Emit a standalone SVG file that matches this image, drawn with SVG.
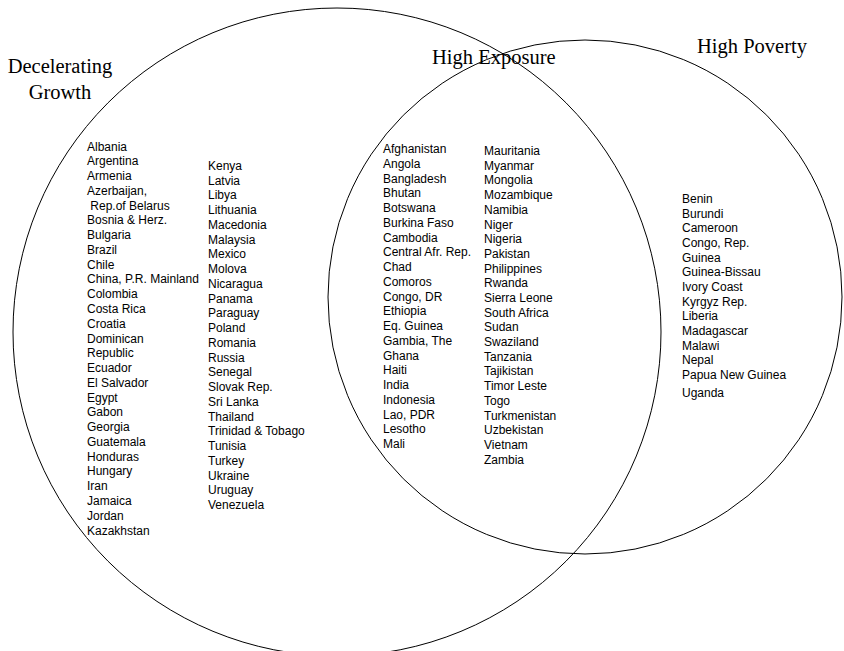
<svg xmlns="http://www.w3.org/2000/svg" width="844" height="651" viewBox="0 0 844 651">
<style>
.ring{fill:none;stroke:#000;stroke-width:1}
.title{font-family:"Liberation Serif","Times New Roman",serif;font-size:20.5px;fill:#000}
.item{font-family:"Liberation Sans",Arial,sans-serif;font-size:12px;fill:#000}
</style>
<rect width="844" height="651" fill="#fff"/>
<g id="decelerating-growth">
<circle class="ring" cx="337" cy="332" r="324"/>
<text class="title" x="60" y="73" text-anchor="middle">Decelerating</text>
<text class="title" x="60" y="99" text-anchor="middle">Growth</text>
<text class="item" x="87" y="150.5"><tspan x="87">Albania</tspan><tspan x="87" dy="14.77">Argentina</tspan><tspan x="87" dy="14.77">Armenia</tspan><tspan x="87" dy="14.77">Azerbaijan,</tspan><tspan x="87" dy="14.77"> Rep.of Belarus</tspan><tspan x="87" dy="14.77">Bosnia &amp; Herz.</tspan><tspan x="87" dy="14.77">Bulgaria</tspan><tspan x="87" dy="14.77">Brazil</tspan><tspan x="87" dy="14.77">Chile</tspan><tspan x="87" dy="14.77">China, P.R. Mainland</tspan><tspan x="87" dy="14.77">Colombia</tspan><tspan x="87" dy="14.77">Costa Rica</tspan><tspan x="87" dy="14.77">Croatia</tspan><tspan x="87" dy="14.77">Dominican</tspan><tspan x="87" dy="14.77">Republic</tspan><tspan x="87" dy="14.77">Ecuador</tspan><tspan x="87" dy="14.77">El Salvador</tspan><tspan x="87" dy="14.77">Egypt</tspan><tspan x="87" dy="14.77">Gabon</tspan><tspan x="87" dy="14.77">Georgia</tspan><tspan x="87" dy="14.77">Guatemala</tspan><tspan x="87" dy="14.77">Honduras</tspan><tspan x="87" dy="14.77">Hungary</tspan><tspan x="87" dy="14.77">Iran</tspan><tspan x="87" dy="14.77">Jamaica</tspan><tspan x="87" dy="14.77">Jordan</tspan><tspan x="87" dy="14.77">Kazakhstan</tspan></text>
<text class="item" x="208" y="170"><tspan x="208">Kenya</tspan><tspan x="208" dy="14.74">Latvia</tspan><tspan x="208" dy="14.74">Libya</tspan><tspan x="208" dy="14.74">Lithuania</tspan><tspan x="208" dy="14.74">Macedonia</tspan><tspan x="208" dy="14.74">Malaysia</tspan><tspan x="208" dy="14.74">Mexico</tspan><tspan x="208" dy="14.74">Molova</tspan><tspan x="208" dy="14.74">Nicaragua</tspan><tspan x="208" dy="14.74">Panama</tspan><tspan x="208" dy="14.74">Paraguay</tspan><tspan x="208" dy="14.74">Poland</tspan><tspan x="208" dy="14.74">Romania</tspan><tspan x="208" dy="14.74">Russia</tspan><tspan x="208" dy="14.74">Senegal</tspan><tspan x="208" dy="14.74">Slovak Rep.</tspan><tspan x="208" dy="14.74">Sri Lanka</tspan><tspan x="208" dy="14.74">Thailand</tspan><tspan x="208" dy="14.74">Trinidad &amp; Tobago</tspan><tspan x="208" dy="14.74">Tunisia</tspan><tspan x="208" dy="14.74">Turkey</tspan><tspan x="208" dy="14.74">Ukraine</tspan><tspan x="208" dy="14.74">Uruguay</tspan><tspan x="208" dy="14.74">Venezuela</tspan></text>
</g>
<g id="high-poverty">
<circle class="ring" cx="585" cy="297" r="257"/>
<text class="title" x="697" y="52.5">High Poverty</text>
<text class="item" x="682" y="203"><tspan x="682">Benin</tspan><tspan x="682" dy="14.67">Burundi</tspan><tspan x="682" dy="14.67">Cameroon</tspan><tspan x="682" dy="14.67">Congo, Rep.</tspan><tspan x="682" dy="14.67">Guinea</tspan><tspan x="682" dy="14.67">Guinea-Bissau</tspan><tspan x="682" dy="14.67">Ivory Coast</tspan><tspan x="682" dy="14.67">Kyrgyz Rep.</tspan><tspan x="682" dy="14.67">Liberia</tspan><tspan x="682" dy="14.67">Madagascar</tspan><tspan x="682" dy="14.67">Malawi</tspan><tspan x="682" dy="14.67">Nepal</tspan><tspan x="682" dy="14.67">Papua New Guinea</tspan><tspan x="682" dy="18">Uganda</tspan></text>
</g>
<g id="high-exposure">
<text class="title" x="432" y="64">High Exposure</text>
<text class="item" x="383" y="153"><tspan x="383">Afghanistan</tspan><tspan x="383" dy="14.75">Angola</tspan><tspan x="383" dy="14.75">Bangladesh</tspan><tspan x="383" dy="14.75">Bhutan</tspan><tspan x="383" dy="14.75">Botswana</tspan><tspan x="383" dy="14.75">Burkina Faso</tspan><tspan x="383" dy="14.75">Cambodia</tspan><tspan x="383" dy="14.75">Central Afr. Rep.</tspan><tspan x="383" dy="14.75">Chad</tspan><tspan x="383" dy="14.75">Comoros</tspan><tspan x="383" dy="14.75">Congo, DR</tspan><tspan x="383" dy="14.75">Ethiopia</tspan><tspan x="383" dy="14.75">Eq. Guinea</tspan><tspan x="383" dy="14.75">Gambia, The</tspan><tspan x="383" dy="14.75">Ghana</tspan><tspan x="383" dy="14.75">Haiti</tspan><tspan x="383" dy="14.75">India</tspan><tspan x="383" dy="14.75">Indonesia</tspan><tspan x="383" dy="14.75">Lao, PDR</tspan><tspan x="383" dy="14.75">Lesotho</tspan><tspan x="383" dy="14.75">Mali</tspan></text>
<text class="item" x="484" y="155"><tspan x="484">Mauritania</tspan><tspan x="484" dy="14.7">Myanmar</tspan><tspan x="484" dy="14.7">Mongolia</tspan><tspan x="484" dy="14.7">Mozambique</tspan><tspan x="484" dy="14.7">Namibia</tspan><tspan x="484" dy="14.7">Niger</tspan><tspan x="484" dy="14.7">Nigeria</tspan><tspan x="484" dy="14.7">Pakistan</tspan><tspan x="484" dy="14.7">Philippines</tspan><tspan x="484" dy="14.7">Rwanda</tspan><tspan x="484" dy="14.7">Sierra Leone</tspan><tspan x="484" dy="14.7">South Africa</tspan><tspan x="484" dy="14.7">Sudan</tspan><tspan x="484" dy="14.7">Swaziland</tspan><tspan x="484" dy="14.7">Tanzania</tspan><tspan x="484" dy="14.7">Tajikistan</tspan><tspan x="484" dy="14.7">Timor Leste</tspan><tspan x="484" dy="14.7">Togo</tspan><tspan x="484" dy="14.7">Turkmenistan</tspan><tspan x="484" dy="14.7">Uzbekistan</tspan><tspan x="484" dy="14.7">Vietnam</tspan><tspan x="484" dy="14.7">Zambia</tspan></text>
</g>
</svg>
